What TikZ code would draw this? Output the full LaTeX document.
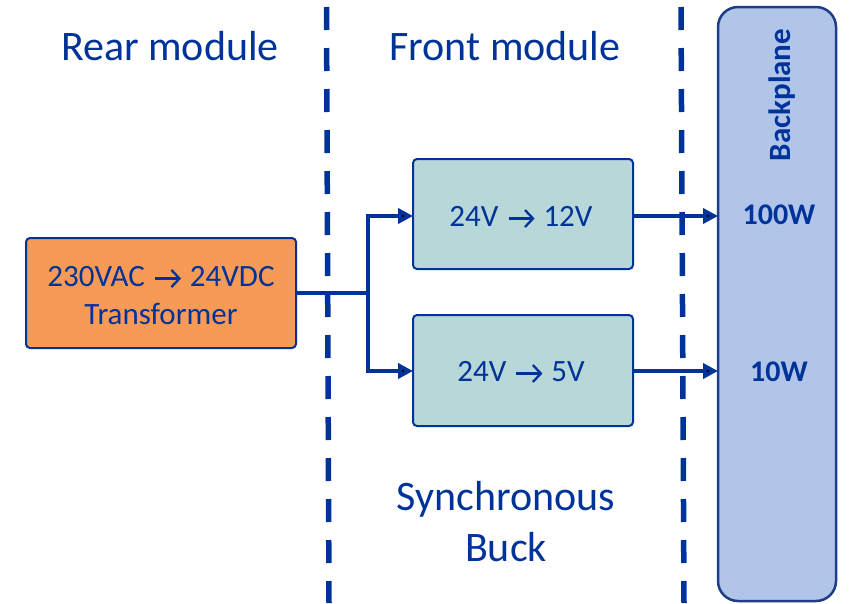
\documentclass[tikz,border=0pt]{standalone}
\usepackage{fontspec}
\setmainfont{Carlito}
\usetikzlibrary{arrows.meta}
\definecolor{dblue}{HTML}{00339A}
\definecolor{orfill}{HTML}{F79A56}
\definecolor{tealfill}{HTML}{B7D7D8}
\definecolor{bpfill}{HTML}{B0C5E8}
\definecolor{bpborder}{HTML}{1F3C88}
\newcommand{\vArr}{\tikz[baseline=0pt,x=1pt,y=1pt]{\path (-3,0) -- (28,0);\draw[dblue, line width=2.3pt] (0,7.5) -- (24,7.5);\draw[dblue, line width=2.3pt, line join=miter] (16.5,16) -- (24.5,7.5) -- (16.5,-1);}}
\tikzset{
  box/.style={draw=dblue, line width=2pt, rounded corners=4pt, inner sep=0pt},
  conn/.style={draw=dblue, line width=4.5pt},
  arr/.style={conn, -{Triangle[length=15pt,width=15pt]}},
  divider/.style={draw=dblue, line width=5.5pt, dash pattern=on 23pt off 18pt},
  title/.style={text=dblue, font=\fontsize{42}{48}\selectfont, anchor=base, inner sep=0pt},
  boxtext/.style={text=dblue, font=\fontsize{31}{36}\selectfont, anchor=base, inner sep=0pt},
  boldtext/.style={text=dblue, font=\fontsize{30}{36}\selectfont\bfseries, anchor=base, inner sep=0pt}
}
\begin{document}
\begin{tikzpicture}[x=1pt,y=-1pt]
\useasboundingbox (0,0) rectangle (849,603);
% dividers
\coordinate (d1t) at (326.5,7);
\coordinate (d1b) at (329,603);
\coordinate (d2t) at (681,7);
\coordinate (d2b) at (684,603);
\draw[divider] (d1t) -- (d1b);
\draw[divider] (d2t) -- (d2b);
% backplane
\draw[draw=bpborder, fill=bpfill, line width=2.5pt, rounded corners=20pt] (718,7) rectangle (836,601);
\coordinate (bp100) at (718,216);
\coordinate (bp10) at (718,371);
\node[boldtext, rotate=90, font=\fontsize{31}{36}\selectfont\bfseries] (bpl) at (790,95) {Backplane};
\node[boldtext] (w100) at (779,224) {100W};
\node[boldtext] (w10) at (779,381) {10W};
% boxes
\path[box, fill=orfill] (26,238) rectangle (296,348);
\coordinate (trR) at (296,293);
\node[boxtext] (tr1) at (161,286) {230VAC \vArr{} 24VDC};
\node[boxtext] (tr2) at (161,324) {Transformer};
\path[box, fill=tealfill] (413,159) rectangle (633,269);
\coordinate (b1L) at (413,216);
\coordinate (b1R) at (633,216);
\node[boxtext] (b1t) at (521,226) {24V \vArr{} 12V};
\path[box, fill=tealfill] (413,315) rectangle (633,426);
\coordinate (b2L) at (413,371);
\coordinate (b2R) at (633,371);
\node[boxtext] (b2t) at (521,381) {24V \vArr{} 5V};
% connectors
\coordinate (split) at (368,293);
\draw[conn] (trR) -- (split);
\draw[arr] (split) |- (b1L);
\draw[arr] (split) |- (b2L);
\draw[arr] (b1R) -- (bp100);
\draw[arr] (b2R) -- (bp10);
% titles
\node[title] (rear) at (170,60) {Rear module};
\node[title] (front) at (505,60) {Front module};
\node[title] (sync) at (506,510) {Synchronous};
\node[title] (buck) at (506,561) {Buck};
\end{tikzpicture}
\end{document}
